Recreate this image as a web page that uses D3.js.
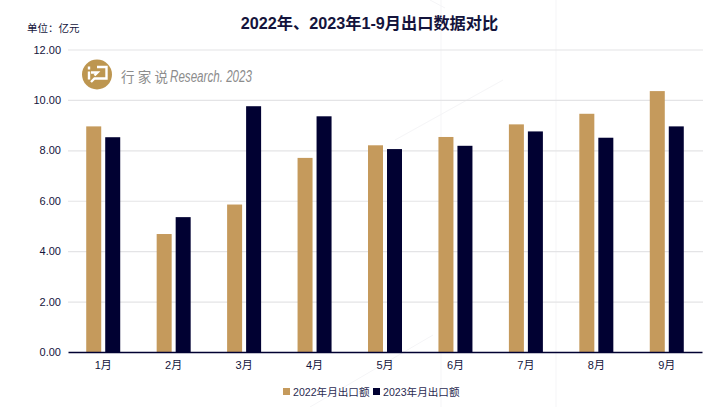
<!DOCTYPE html>
<html lang="zh">
<head>
<meta charset="utf-8">
<title>2022年、2023年1-9月出口数据对比</title>
<script src="https://d3js.org/d3.v7.min.js"></script>
<style>
  body { margin: 0; padding: 0; background: #fff; }
  svg { display: block; }
  text { font-family: "Liberation Sans", "Noto Sans CJK SC", sans-serif; }
</style>
</head>
<body>
<svg id="chart" width="725" height="407"></svg>
<script>
const months = ['1月', '2月', '3月', '4月', '5月', '6月', '7月', '8月', '9月'];
const values2022 = [8.95, 4.68, 5.85, 7.70, 8.20, 8.53, 9.03, 9.45, 10.35];
const values2023 = [8.52, 5.35, 9.75, 9.35, 8.05, 8.18, 8.75, 8.50, 8.95];
const seriesNames = ['2022年月出口额', '2023年月出口额'];
const yTicks = [0, 2, 4, 6, 8, 10, 12];

const gold = '#c59a5c';
const navy = '#010132';
const inkDark = '#14143c';

const svg = d3.select('#chart');

const x = d3.scaleBand().domain(months).range([68, 702]);
const y = d3.scaleLinear().domain([0, 12]).range([352, 49.5]);

// faint watermark lines behind the plot
svg.append('g')
  .attr('stroke', '#f5f5f7')
  .attr('fill', 'none')
  .selectAll('path')
  .data(['M441,0V407', 'M556,0V407', 'M430,0L445,8', 'M310,407L433,335', 'M395,140L503,80'])
  .join('path')
  .attr('d', d => d);

// gridlines and y labels
const yAxis = d3.axisLeft(y).tickValues(yTicks).tickFormat(d3.format('.2f')).tickSize(0).tickPadding(7);
const yG = svg.append('g').attr('transform', 'translate(68,0)').call(yAxis);
yG.select('.domain').remove();
yG.selectAll('text').attr('font-size', 11).attr('fill', inkDark);
yG.selectAll('.tick')
  .filter(d => d !== 0)
  .append('line')
  .attr('x2', 635)
  .attr('stroke', '#e4e4e6')
  .attr('stroke-width', 1.2);

// bars
const barWidth = 15;
const drawBars = (values, offset, color) => {
  svg.append('g')
    .selectAll('rect')
    .data(values)
    .join('rect')
    .attr('x', (d, i) => x(months[i]) + x.bandwidth() / 2 + offset)
    .attr('y', d => y(d))
    .attr('width', barWidth)
    .attr('height', d => y(0) - y(d))
    .attr('fill', color);
};
drawBars(values2022, -17, gold);
drawBars(values2023, 2, navy);

// x axis
const xAxis = d3.axisBottom(x).tickSize(0).tickPadding(9);
const xG = svg.append('g').attr('transform', 'translate(0,352)').call(xAxis);
xG.select('.domain').attr('stroke', navy).attr('stroke-width', 1.3);
xG.selectAll('text').attr('font-size', 11).attr('fill', inkDark);

// title and unit
svg.append('text')
  .attr('x', 369.5).attr('y', 29)
  .attr('text-anchor', 'middle')
  .attr('font-size', 16.2).attr('font-weight', 700)
  .attr('fill', inkDark)
  .text('2022年、2023年1-9月出口数据对比');
svg.append('text')
  .attr('x', 27).attr('y', 32)
  .attr('font-size', 10.5).attr('fill', inkDark)
  .text('单位：亿元');

// legend
const legend = svg.append('g');
[gold, navy].forEach((color, i) => {
  const lx = [283, 373][i];
  legend.append('rect')
    .attr('x', lx).attr('y', 388).attr('width', 7).attr('height', 7)
    .attr('fill', color);
  legend.append('text')
    .attr('x', lx + 10).attr('y', 396)
    .attr('font-size', 10.6).attr('fill', '#2c2c52')
    .text(seriesNames[i]);
});

// logo watermark
const logo = svg.append('g');
logo.append('circle').attr('cx', 97).attr('cy', 74.5).attr('r', 15).attr('fill', '#bd9650');
logo.append('path')
  .attr('d', 'M97,67h9.5v11.5h-12l-3.5,3.5M91,72.5h6.5l-3,3')
  .attr('fill', 'none').attr('stroke', '#fff').attr('stroke-width', 2.4);
logo.append('path')
  .attr('d', 'M89,66.5v3M89,71.5v8')
  .attr('fill', 'none').attr('stroke', '#fff').attr('stroke-width', 2.4);
logo.append('text')
  .attr('x', 121).attr('y', 81.5)
  .attr('font-size', 13.5)
  .attr('fill', '#8c8c8c')
  .attr('textLength', 47)
  .text('行家说');
logo.append('text')
  .attr('x', 170).attr('y', 81.5)
  .attr('font-size', 16).attr('font-style', 'italic')
  .attr('fill', '#8c8c8c')
  .attr('textLength', 82)
  .attr('lengthAdjust', 'spacingAndGlyphs')
  .text('Research. 2023');
</script>
</body>
</html>
